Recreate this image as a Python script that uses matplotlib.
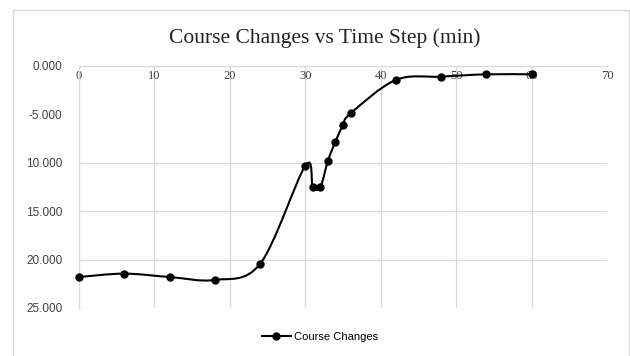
import matplotlib
matplotlib.use("Agg")
import matplotlib.pyplot as plt
from matplotlib.path import Path
from matplotlib.patches import PathPatch, Rectangle
from matplotlib.lines import Line2D
import numpy as np

time_step = [0, 6, 12, 18, 24, 30, 31, 32, 33, 34, 35, 36, 42, 48, 54, 60]
course_changes = [-21.8, -21.45, -21.8, -22.1, -20.45, -10.3, -12.5, -12.5,
                  -9.8, -7.8, -6.1, -4.9, -1.44, -1.1, -0.86, -0.86]
x_ticks = [0, 10, 20, 30, 40, 50, 60, 70]
y_ticks = [0, -5, -10, -15, -20, -25]
y_tick_labels = ["0.000", "-5.000", "10.000", "15.000", "20.000", "25.000"]
title = "Course Changes vs Time Step (min)"
series_name = "Course Changes"

W, H = 630, 356
fig = plt.figure(figsize=(W / 100, H / 100), dpi=100)
fig.patch.set_facecolor("white")

# chart-area border
fig.patches.append(Rectangle((13 / W, -0.01), (629 - 13) / W, 1.01 - 10 / H,
                             transform=fig.transFigure, fill=False,
                             edgecolor="#d9d9d9", linewidth=1.0))

left, right, top, bottom = 79, 607, 66, 308
ax = fig.add_axes([left / W, 1 - bottom / H, (right - left) / W, (bottom - top) / H])
ax.spines["bottom"].set_position(("data", 0))
ax.set_xlim(0, 70)
ax.set_ylim(-25, 0)
ax.set_xticks(x_ticks)
ax.set_yticks(y_ticks)
ax.set_yticklabels(y_tick_labels, fontfamily="Liberation Sans", fontsize=8.5, color="#404040")
ax.set_xticklabels([str(v) for v in x_ticks], fontfamily="Liberation Serif", fontsize=9, color="#404040")
for s in ["top", "right"]:
    ax.spines[s].set_visible(False)
ax.spines["bottom"].set_color("#d9d9d9")
ax.spines["left"].set_color("#d9d9d9")
ax.tick_params(axis="both", length=0)
ax.tick_params(axis="x", pad=3)
ax.tick_params(axis="y", pad=12)

# gridlines (the -5 line is not visible in the reference)
for xv in x_ticks:
    ax.axvline(xv, color="#d9d9d9", linewidth=0.9, zorder=0)
for yv in y_ticks:
    if yv != -5:
        ax.axhline(yv, color="#d9d9d9", linewidth=0.9, zorder=0)

# smoothed line (Excel-style cubic Bezier through the points)
pts = np.column_stack([time_step, course_changes])
verts = [pts[0]]
codes = [Path.MOVETO]
n = len(pts)
for i in range(n - 1):
    p0 = pts[i - 1] if i > 0 else pts[i]
    p1 = pts[i]
    p2 = pts[i + 1]
    p3 = pts[i + 2] if i + 2 < n else pts[i + 1]
    c1 = p1 + (p2 - p0) / 6.0
    c2 = p2 - (p3 - p1) / 6.0
    verts += [c1, c2, p2]
    codes += [Path.CURVE4] * 3
ax.add_patch(PathPatch(Path(verts, codes), fill=False, edgecolor="black",
                       linewidth=1.5, zorder=3))
ax.plot(time_step, course_changes, linestyle="none", marker="o", markersize=5,
        color="black", zorder=4, clip_on=False)

fig.text(325 / W, 1 - 38 / H, title, ha="center", va="center",
         fontfamily="Liberation Serif", fontsize=15.5, color="#222222")

handle = Line2D([], [], color="black", marker="o", markersize=5, linewidth=1.5)
fig.legend([handle], [series_name], loc="center", bbox_to_anchor=(320 / W, 1 - 337 / H),
           frameon=False, prop={"family": "Liberation Sans", "size": 8},
           handlelength=2.6, handletextpad=0.3)

fig.savefig("out.png", dpi=100)
